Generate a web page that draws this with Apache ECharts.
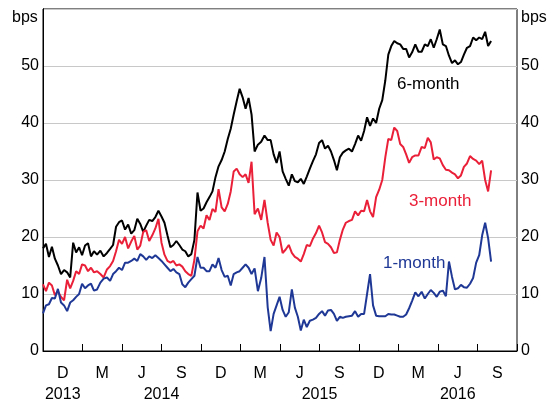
<!DOCTYPE html>
<html>
<head>
<meta charset="utf-8">
<script src="https://cdn.jsdelivr.net/npm/echarts@6/dist/echarts.min.js"></script>
<style>
html,body{margin:0;padding:0;background:#fff;}
#chart{width:559px;height:405px;}
</style>
</head>
<body>
<div id="chart"></div>
<script>
// Weekly observations starting at this date
const startDate = '2013-10-01';
const stepDays = 7;

const sixMonth = [
18.0,18.8,16.5,18.3,16.2,15.0,13.5,14.2,13.8,12.9,
19.0,17.3,18.2,16.8,18.5,18.9,16.6,17.5,16.9,17.6,
16.6,17.2,17.9,18.6,21.8,22.6,22.9,21.3,22.2,20.6,
21.2,23.2,22.3,20.9,22.0,23.0,22.8,23.5,24.6,23.6,
22.5,20.3,18.2,18.6,19.3,18.6,17.8,17.5,16.6,17.0,
19.5,27.8,24.6,25.0,26.1,27.0,28.0,30.5,32.4,33.5,
35.0,37.2,39.0,41.5,43.8,46.0,44.5,42.5,44.4,41.5,
35.0,36.2,36.7,37.8,37.0,37.0,34.5,33.0,35.0,31.5,
30.2,29.0,31.0,29.8,29.6,30.2,29.3,30.6,32.0,33.3,
34.5,36.5,37.0,35.5,36.0,35.0,33.5,31.7,34.0,34.8,
35.2,35.5,35.0,36.3,37.8,36.9,38.6,41.0,39.5,40.8,
40.0,42.5,44.0,47.5,52.0,53.5,54.4,54.0,53.8,53.0,
53.0,51.5,52.4,53.8,52.5,52.5,53.8,53.5,54.7,53.2,
54.7,56.4,53.8,53.5,51.8,50.5,51.0,50.3,50.7,52.0,
53.2,53.5,55.0,54.5,55.0,54.7,56.0,53.5,54.4
];
const threeMonth = [
11.7,10.5,12.0,11.5,9.8,10.5,9.5,8.9,12.5,11.0,
12.3,14.0,13.5,15.2,15.0,14.0,14.6,13.8,14.0,13.5,
12.9,14.3,14.9,15.8,17.5,19.5,18.8,20.0,18.0,19.2,
20.2,17.8,18.5,20.9,21.2,19.3,20.3,21.5,23.2,19.0,
16.9,15.8,15.5,15.8,15.0,15.2,14.8,14.0,13.5,13.2,
16.0,21.0,22.0,21.5,23.8,23.0,24.9,24.4,28.4,25.2,
24.5,25.8,28.0,31.5,32.0,31.0,30.5,31.0,29.5,33.2,
24.0,25.0,23.0,26.5,22.5,19.5,18.5,20.8,20.0,17.2,
17.8,18.6,17.2,16.5,16.2,15.7,17.0,18.6,18.4,19.7,
20.7,22.0,20.8,19.1,18.8,18.2,17.2,17.3,19.5,21.3,
22.5,22.8,23.0,24.5,23.8,24.6,24.5,26.5,24.5,23.5,
27.0,28.3,30.0,34.0,37.2,37.0,39.2,38.6,36.3,35.8,
34.5,33.0,34.0,34.3,34.3,35.8,35.6,37.4,36.6,33.6,
34.0,33.8,32.6,31.8,31.7,31.3,31.0,30.3,30.8,32.3,
32.9,34.2,33.7,33.4,32.8,33.4,30.0,28.0,31.7
];
const oneMonth = [
6.6,8.0,8.2,9.3,9.2,10.9,8.5,8.0,7.0,8.5,
8.9,9.5,10.0,11.8,11.0,11.5,11.8,10.6,10.8,12.0,
12.7,12.9,12.3,13.5,14.0,14.6,14.2,15.5,15.5,15.8,
16.2,15.8,17.0,16.6,16.0,16.6,16.3,16.8,16.3,15.8,
15.2,14.6,14.0,14.4,13.8,13.5,11.7,11.2,12.0,12.6,
13.2,16.5,14.6,14.6,14.0,14.0,15.2,14.6,16.3,14.2,
13.0,13.2,11.5,13.5,13.8,14.0,14.6,15.2,14.6,13.5,
14.5,10.5,12.8,16.5,7.7,3.5,6.5,8.0,9.5,7.2,
6.0,6.8,10.8,7.6,6.0,3.6,5.5,4.2,5.3,5.5,
5.8,6.5,7.0,6.2,7.1,7.2,6.5,5.3,6.0,5.8,
6.0,6.1,6.2,7.0,6.0,6.5,6.5,10.0,13.5,8.0,
6.2,6.1,6.1,6.1,6.5,6.4,6.4,6.2,6.0,6.0,
6.4,7.5,8.8,10.3,9.6,10.4,9.2,10.0,10.7,10.2,
9.5,10.4,10.6,9.6,15.7,13.0,10.8,11.0,11.6,11.2,
11.1,11.8,12.8,15.5,16.8,20.3,22.5,19.8,15.7
];

const quarterLetters = ['D','M','J','S','D','M','J','S','D','M','J','S'];
const yearLabels = {'1.5':'2013','9':'2014','21':'2015','31.5':'2016'};
const yTicks = [0,10,20,30,40,50];

// convert a date into months elapsed since the axis origin (1 Oct 2013)
function monthsSinceOrigin(d){
  const y = d.getUTCFullYear(), m = d.getUTCMonth(), day = d.getUTCDate();
  const dim = new Date(Date.UTC(y, m + 1, 0)).getUTCDate();
  return (y - 2013) * 12 + (m - 9) + (day - 1) / dim;
}
const t0 = Date.parse(startDate + 'T00:00:00Z');
function toPairs(arr){
  return arr.map((v, i) => [monthsSinceOrigin(new Date(t0 + i * stepDays * 86400000)), v]);
}

const FONT = 'Arial, "Liberation Sans", sans-serif';
const chart = echarts.init(document.getElementById('chart'), null, {renderer:'canvas'});
chart.setOption({
  animation:false,
  backgroundColor:'#fff',
  grid:{left:43,right:42,top:9,bottom:47,show:true,borderColor:'#000',borderWidth:1,backgroundColor:'transparent'},
  xAxis:[
    {type:'value',min:0,max:36,interval:3,
     axisLine:{lineStyle:{color:'#000',width:1}},
     axisTick:{show:true,inside:true,length:7,lineStyle:{color:'#000',width:1}},
     axisLabel:{show:false},splitLine:{show:false}},
    {type:'value',min:0,max:36,interval:1.5,position:'bottom',
     axisLine:{show:false},axisTick:{show:false},splitLine:{show:false},
     axisLabel:{show:true,margin:12,color:'#000',fontSize:16,fontFamily:FONT,lineHeight:21,
       showMinLabel:true,showMaxLabel:true,
       formatter:function(v){
         const r = Math.round(v*10)/10;
         let top = '';
         if (Math.abs(r % 3 - 1.5) < 0.01) top = quarterLetters[Math.floor(r/3)] || '';
         const yr = yearLabels[String(r)];
         if (yr) return top + '\n' + yr;
         return top;
       }}}
  ],
  yAxis:[
    {type:'value',min:0,max:60,interval:10,position:'left',
     axisLine:{show:true,lineStyle:{color:'#000',width:1}},axisTick:{show:false},
     splitLine:{show:true,lineStyle:{color:'#c8c8c8',width:1}},
     axisLabel:{color:'#000',fontSize:16,fontFamily:FONT,margin:4,
       formatter:function(v){return yTicks.indexOf(v)>=0?String(v):'';}}},
    {type:'value',min:0,max:60,interval:10,position:'right',
     axisLine:{show:true,lineStyle:{color:'#000',width:1}},axisTick:{show:false},
     splitLine:{show:false},
     axisLabel:{color:'#000',fontSize:16,fontFamily:FONT,margin:4,
       formatter:function(v){return yTicks.indexOf(v)>=0?String(v):'';}}}
  ],
  series:[
    {name:'6-month',type:'line',data:toPairs(sixMonth),showSymbol:false,xAxisIndex:0,yAxisIndex:0,
     lineStyle:{color:'#000000',width:2},z:3},
    {name:'3-month',type:'line',data:toPairs(threeMonth),showSymbol:false,xAxisIndex:0,yAxisIndex:0,
     lineStyle:{color:'#ea2039',width:2},z:3},
    {name:'1-month',type:'line',data:toPairs(oneMonth),showSymbol:false,xAxisIndex:0,yAxisIndex:0,
     lineStyle:{color:'#1f3896',width:2},z:3}
  ],
  graphic:[
    {type:'text',left:12,top:10,style:{text:'bps',fill:'#000',font:'16px '+FONT}},
    {type:'text',left:521,top:10,style:{text:'bps',fill:'#000',font:'16px '+FONT}},
    {type:'text',left:397,top:76,style:{text:'6-month',fill:'#000',font:'17px '+FONT}},
    {type:'text',left:409,top:193,style:{text:'3-month',fill:'#ea2039',font:'17px '+FONT}},
    {type:'text',left:383,top:255,style:{text:'1-month',fill:'#1f3896',font:'17px '+FONT}}
  ]
});
</script>
</body>
</html>
